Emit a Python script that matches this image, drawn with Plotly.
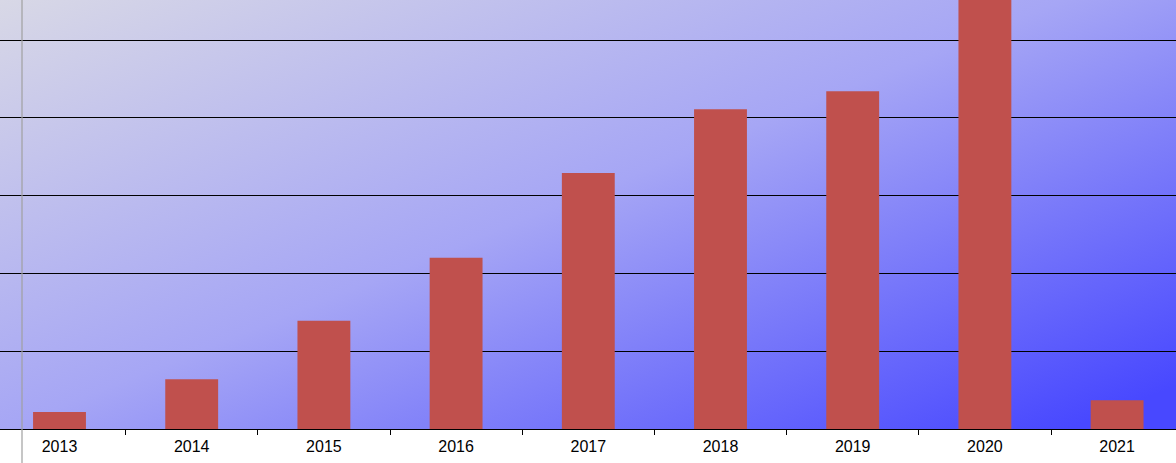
import base64
import plotly.graph_objects as go

years = ["2013", "2014", "2015", "2016", "2017", "2018", "2019", "2020", "2021"]
values = [22, 64, 139, 220, 329, 411, 434, 600, 37]

W, H = 1176, 463
BOTTOM = 34
PLOT_H = H - BOTTOM

svg = f'''<svg xmlns="http://www.w3.org/2000/svg" width="{W}" height="{PLOT_H}" viewBox="0 0 {W} {PLOT_H}" preserveAspectRatio="none">
<defs><linearGradient id="g" x1="0" y1="0" x2="1" y2="0.9">
<stop offset="0" stop-color="#D8D8E6"/>
<stop offset="0.5" stop-color="#A6A6F5"/>
<stop offset="1" stop-color="#4848FF"/>
</linearGradient></defs>
<rect x="0" y="0" width="{W}" height="{PLOT_H}" fill="url(#g)"/>
</svg>'''
src = "data:image/svg+xml;base64," + base64.b64encode(svg.encode()).decode()

fig = go.Figure()
fig.add_trace(go.Bar(x=years, y=values, marker=dict(color="#C0504D", line=dict(width=0)), width=0.4))

fig.add_layout_image(dict(source=src, xref="paper", yref="paper", x=0, y=1, sizex=1, sizey=1,
                          sizing="stretch", xanchor="left", yanchor="top", layer="below"))

fig.add_shape(type="line", xref="paper", yref="paper", x0=22 / W, x1=22 / W, y0=-BOTTOM / PLOT_H, y1=1,
              line=dict(color="#A0A0A0", width=1.2))

step = 132.2
x_left = -59.5 / step
x_right = x_left + W / step
fig.update_layout(
    width=W, height=H,
    margin=dict(l=0, r=0, t=0, b=BOTTOM),
    paper_bgcolor="white", plot_bgcolor="rgba(0,0,0,0)",
    showlegend=False,
    xaxis=dict(type="category", range=[x_left, x_right], showgrid=False, showline=True,
               linecolor="black", linewidth=1, ticks="outside", tickson="boundaries",
               ticklen=5, tickcolor="black", tickwidth=1, ticklabelstandoff=3,
               tickfont=dict(family="Liberation Sans, Arial", size=16, color="black")),
    yaxis=dict(range=[0, PLOT_H / 0.778], dtick=100, showgrid=True, gridcolor="black", gridwidth=1,
               showticklabels=False, zeroline=False, showline=False, ticks=""),
)

fig.write_html("out.html", config={"displayModeBar": False},
               post_script="document.body.style.margin='0';document.body.style.padding='0';")
